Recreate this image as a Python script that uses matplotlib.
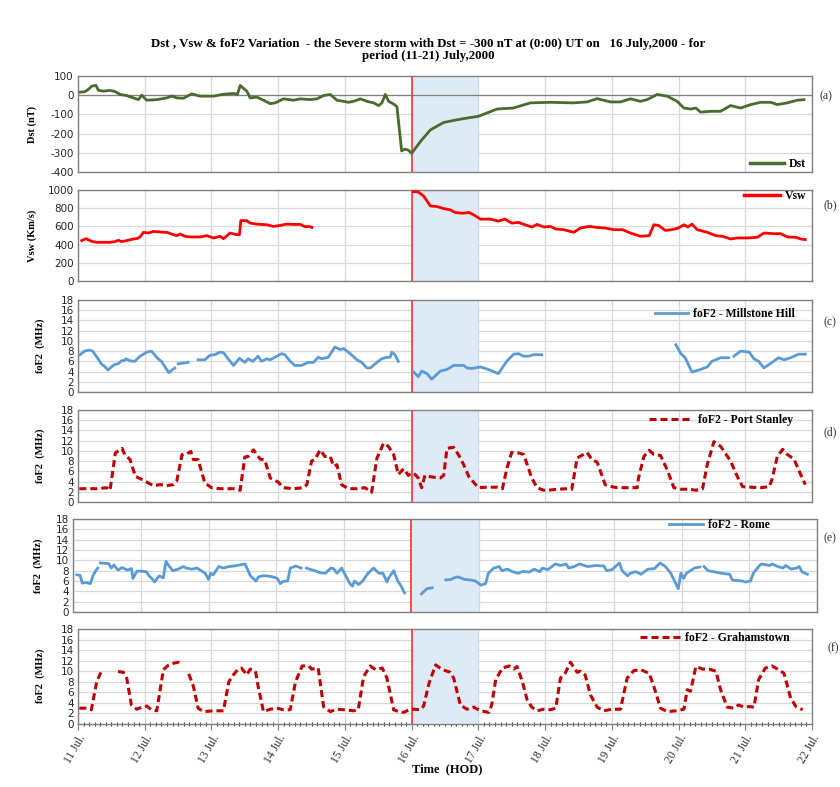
import numpy as np
import matplotlib
matplotlib.use('Agg')
import matplotlib.pyplot as plt
from matplotlib.lines import Line2D
from matplotlib.ticker import MultipleLocator

plt.rcParams['axes.unicode_minus'] = False
nan = np.nan

# ---------------- data (time in days from 11 July 00:00 UT) ----------------
dst_t = [0.03, 0.1, 0.155, 0.205, 0.27, 0.305, 0.38, 0.48, 0.555, 0.63, 0.73, 0.83, 0.905, 0.955,
         1.03, 1.18, 1.33, 1.405, 1.48, 1.58, 1.705, 1.83, 2.03, 2.18, 2.33, 2.39, 2.43, 2.53, 2.58,
         2.68, 2.78, 2.88, 2.955, 3.08, 3.23, 3.33, 3.48, 3.58, 3.68, 3.78, 3.88, 3.98, 4.055, 4.13,
         4.23, 4.33, 4.43, 4.505, 4.555, 4.605, 4.655, 4.73, 4.78, 4.85, 4.9, 4.95, 5.0,
         5.13, 5.28, 5.48, 5.68, 5.83, 6.0, 6.28, 6.52, 6.78, 7.08, 7.42, 7.63, 7.78, 7.98, 8.13,
         8.28, 8.43, 8.53, 8.68, 8.83, 8.98, 9.08, 9.18, 9.26, 9.33, 9.48, 9.63, 9.78, 9.93, 10.08,
         10.23, 10.38, 10.48, 10.63, 10.78, 10.88]
dst_v = [16, 18, 30, 47, 51, 26, 21, 25, 19, 4, -2, -14, -23, 0,
         -26, -23, -14, -4, -14, -16, 7, -5, -5, 5, 9, 5, 51, 21, -14,
         -10, -26, -44, -40, -19, -26, -19, -23, -19, -2, 4, -26, -32, -37, -32,
         -19, -32, -40, -54, -40, 4, -32, -46, -60, -290, -281, -286, -303,
         -242, -181, -142, -128, -119, -110, -72, -67, -40, -37, -40, -35, -18, -35, -35,
         -19, -32, -23, 4, -5, -32, -67, -72, -67, -88, -84, -84, -54, -67, -49,
         -37, -37, -49, -40, -26, -23]

vsw_t = [0.055, 0.12, 0.205, 0.28, 0.48, 0.555, 0.605, 0.655, 0.73, 0.83, 0.88, 0.93, 0.98, 1.055,
         1.13, 1.23, 1.33, 1.43, 1.48, 1.53, 1.605, 1.68, 1.83, 1.93, 2.03, 2.13, 2.18, 2.28, 2.38,
         2.42, 2.44, 2.53, 2.58, 2.68, 2.83, 2.93, 3.03, 3.13, 3.23, 3.33, 3.405, 3.455, 3.505,
         4.9,
         5.03, 5.1, 5.18, 5.28, 5.38, 5.48, 5.58, 5.65, 5.76, 5.86, 5.93, 6.03, 6.18, 6.3, 6.4, 6.5,
         6.6, 6.7, 6.8, 6.88, 6.98, 7.08, 7.16, 7.28, 7.43, 7.53, 7.66, 7.78, 7.9, 8.03, 8.16, 8.28,
         8.43, 8.56, 8.63, 8.7, 8.8, 8.9, 9.0, 9.08, 9.14, 9.2, 9.28, 9.43, 9.56, 9.66, 9.78, 9.88,
         10.03, 10.18, 10.28, 10.43, 10.53, 10.63, 10.76, 10.83, 10.9]
vsw_v = [444, 465, 436, 425, 425, 433, 447, 433, 444, 462, 465, 484, 535, 527,
         545, 538, 535, 509, 498, 516, 491, 484, 484, 498, 473, 491, 465, 527, 509,
         509, 665, 662, 636, 625, 618, 600, 611, 625, 622, 622, 596, 600, 589,
         nan,
         982, 978, 934, 825, 818, 796, 782, 753, 745, 753, 727, 680, 680, 658, 680, 636,
         644, 618, 593, 622, 593, 600, 571, 564, 535, 582, 600, 589, 582, 564, 564, 527,
         491, 498, 618, 611, 556, 564, 582, 618, 593, 625, 564, 535, 498, 491, 462, 473,
         473, 480, 527, 520, 520, 484, 480, 462, 455]

mh_t = [0.03, 0.1, 0.17, 0.22, 0.3, 0.35, 0.4, 0.45, 0.5, 0.55, 0.6, 0.65, 0.7, 0.72, 0.78, 0.85,
        0.93, 1.03, 1.1, 1.2, 1.25, 1.36, 1.45, 1.47, 1.5, 1.55, 1.65, 1.7, 1.8, 1.9, 1.98, 2.05,
        2.13, 2.18, 2.25, 2.33, 2.42, 2.5, 2.55, 2.62, 2.7, 2.75, 2.83, 2.88, 2.98, 3.05, 3.1, 3.18,
        3.25, 3.35, 3.45, 3.53, 3.6, 3.65, 3.75, 3.85, 3.93, 3.98, 4.08, 4.18, 4.25, 4.33, 4.38,
        4.48, 4.55, 4.63, 4.68, 4.7, 4.75, 4.8, 4.9,
        5.03, 5.1, 5.15, 5.23, 5.3, 5.43, 5.53, 5.63, 5.78, 5.83, 5.9, 6.03, 6.15, 6.3, 6.43, 6.53,
        6.6, 6.68, 6.75, 6.83, 6.95, 7.5,
        8.96, 9.03, 9.1, 9.2, 9.33, 9.43, 9.5, 9.63, 9.75, 9.79, 9.83, 9.93, 10.06, 10.13, 10.2,
        10.28, 10.38, 10.5, 10.58, 10.68, 10.8, 10.9]
mh_v = [7.3, 8.0, 8.2, 8.0, 6.5, 5.5, 5.0, 4.3, 4.9, 5.4, 5.5, 6.1, 6.2, 6.5, 6.1, 6.0,
        7.0, 7.8, 8.0, 6.5, 6.0, 3.8, 4.7, nan, 5.5, 5.6, 5.8, nan, 6.3, 6.3, 7.2, 7.3,
        7.8, 7.7, 6.5, 5.2, 6.6, 5.8, 6.5, 6.0, 7.0, 6.0, 6.5, 6.3, 7.0, 7.5, 7.3, 6.0,
        5.2, 5.2, 5.8, 5.8, 6.8, 6.5, 6.8, 8.8, 8.3, 8.5, 7.5, 6.3, 5.8, 4.7, 4.7,
        5.8, 6.5, 6.8, 6.8, 7.8, 7.3, 6.0, nan,
        3.9, 3.0, 4.1, 3.6, 2.5, 4.1, 4.4, 5.2, 5.2, 4.7, 4.6, 4.9, 4.4, 3.6, 6.1, 7.4,
        7.5, 7.0, 7.0, 7.3, 7.3, nan,
        9.25, 7.6, 6.7, 3.9, 4.4, 4.9, 6.0, 6.7, 6.7, nan, 7.0, 8.0, 7.8, 6.5, 6.0,
        4.7, 5.6, 6.7, 6.3, 6.7, 7.4, 7.4]

ps_t = [0.02, 0.28, 0.43, 0.48, 0.56, 0.66, 0.7, 0.78, 0.86, 0.93, 1.03, 1.13, 1.23, 1.33, 1.43,
        1.48, 1.56, 1.63, 1.69, 1.73, 1.8, 1.9, 2.0, 2.13, 2.33, 2.43, 2.5, 2.55, 2.63, 2.73, 2.8,
        2.88, 3.0, 3.08, 3.23, 3.38, 3.43, 3.5, 3.55, 3.63, 3.7, 3.78, 3.83, 3.88, 3.95, 4.05, 4.18,
        4.3, 4.4, 4.48, 4.58, 4.65, 4.73, 4.8, 4.88, 4.95, 5.0, 5.05, 5.1, 5.15, 5.2, 5.3, 5.43,
        5.48, 5.53, 5.63, 5.7, 5.78, 5.86, 5.96, 6.0, 6.13, 6.28, 6.36, 6.43, 6.5, 6.6, 6.68, 6.8,
        6.88, 6.98, 7.05, 7.18, 7.33, 7.4, 7.48, 7.63, 7.7, 7.78, 7.83, 7.9, 7.96, 8.08, 8.28, 8.38,
        8.4, 8.48, 8.56, 8.63, 8.73, 8.83, 8.93, 9.03, 9.16, 9.26, 9.36, 9.43, 9.53, 9.63, 9.78,
        9.88, 9.96, 10.08, 10.23, 10.36, 10.4, 10.48, 10.56, 10.63, 10.73, 10.83, 10.9]
ps_v = [2.6, 2.6, 2.8, 2.3, 9.6, 10.5, 9.3, 8.3, 5.0, 4.6, 3.9, 3.2, 3.4, 3.2, 3.4,
        4.1, 9.3, 9.4, 9.9, 8.3, 8.3, 3.75, 2.8, 2.6, 2.6, 2.3, 8.8, 8.9, 10.2, 8.4, 8.2,
        4.7, 3.9, 2.8, 2.6, 2.8, 3.4, 8.0, 8.3, 10.2, 8.9, 8.9, 7.0, 7.3, 3.4, 2.6, 2.6,
        2.8, 1.9, 8.6, 11.5, 10.9, 9.3, 5.4, 6.5, 5.2, 5.7, 5.4, 4.7, 2.8, 5.2, 4.9, 4.7,
        5.2, 10.5, 10.7, 9.3, 7.3, 4.9, 3.4, 2.8, 2.9, 2.9, 2.6, 6.7, 9.7, 9.6, 9.3, 4.7,
        2.8, 2.3, 2.3, 2.5, 2.6, 2.5, 8.6, 9.7, 8.3, 7.8, 6.0, 3.4, 3.1, 2.8, 2.8, 2.8,
        4.7, 8.9, 10.1, 9.3, 9.1, 6.3, 2.8, 2.5, 2.5, 2.3, 2.6, 7.3, 11.8, 10.9, 8.0,
        5.0, 3.0, 2.9, 2.8, 3.0, 4.4, 8.9, 10.3, 9.3, 8.4, 5.4, 3.4]

rome_t = [0.05, 0.1, 0.13, 0.19, 0.25, 0.29, 0.33, 0.36, 0.38, 0.4, 0.48, 0.52, 0.56, 0.6, 0.66,
          0.72, 0.8, 0.86, 0.88, 0.94, 1.0, 1.08, 1.12, 1.16, 1.2, 1.24, 1.27, 1.33, 1.37, 1.41,
          1.47, 1.55, 1.63, 1.67, 1.75, 1.83, 1.95, 2.0, 2.03, 2.07, 2.11, 2.15, 2.22, 2.3, 2.38,
          2.46, 2.54, 2.62, 2.7, 2.74, 2.79, 2.86, 2.95, 3.02, 3.06, 3.1, 3.17, 3.21, 3.29, 3.37,
          3.41, 3.45, 3.49, 3.57, 3.65, 3.73, 3.81, 3.85, 3.9, 3.97, 4.03, 4.09, 4.13, 4.16, 4.22,
          4.28, 4.36, 4.44, 4.48, 4.52, 4.58, 4.64, 4.66, 4.74, 4.8, 4.85, 4.9, 5.0,
          5.15, 5.23, 5.31, 5.4,
          5.51, 5.59, 5.63, 5.69, 5.75, 5.79, 5.87, 5.95, 6.03, 6.1, 6.14, 6.22, 6.3, 6.34, 6.42,
          6.5, 6.58, 6.66, 6.74, 6.82, 6.9, 6.94, 7.02, 7.13, 7.21, 7.29, 7.33, 7.41, 7.49, 7.61,
          7.73, 7.85, 7.89, 7.97, 8.08, 8.12, 8.2, 8.24, 8.32, 8.4, 8.5, 8.6, 8.68, 8.76, 8.84,
          8.95, 8.99, 9.03, 9.07, 9.19, 9.27, 9.3, 9.33, 9.39, 9.47, 9.59, 9.71, 9.75, 9.9, 9.94,
          10.02, 10.06, 10.14, 10.18, 10.3, 10.34, 10.42, 10.5, 10.54, 10.62, 10.7, 10.74, 10.78,
          10.86]
rome_v = [7.2, 7.1, 5.6, 5.7, 5.5, 7.0, 8.0, 8.5, nan, 9.5, 9.4, 9.4, 8.5, 9.1, 8.1,
          8.6, 8.1, 8.4, 6.5, 7.9, 7.9, 7.8, 7.0, 6.5, 5.8, 6.5, 7.0, 6.6, 9.8, 9.0,
          8.0, 8.3, 8.8, 8.5, 8.3, 8.5, 7.5, 6.3, 7.5, 7.2, 8.0, 8.8, 8.5, 8.8, 8.9,
          9.1, 9.3, 7.0, 6.0, 6.8, 7.0, 7.0, 6.8, 6.5, 5.5, 5.9, 6.0, 8.5, 8.9, 8.5,
          nan, 8.5, 8.3, 8.0, 7.6, 7.5, 8.5, 8.4, 7.5, 8.5, 7.0, 5.5, 5.0, 6.0, 5.3,
          6.0, 7.5, 8.5, 8.0, 7.5, 7.5, 5.8, 6.5, 8.0, 6.0, 5.0, 3.7, nan,
          3.5, 4.5, 4.7, nan,
          6.2, 6.3, 6.6, 6.8, 6.5, 6.3, 6.2, 6.0, 5.2, 5.5, 7.5, 8.5, 8.8, 8.0, 8.3,
          7.8, 7.5, 7.9, 7.7, 8.3, 7.8, 8.5, 8.2, 9.3, 9.0, 9.3, 8.5, 8.8, 9.3, 8.8,
          9.0, 8.9, 8.0, 8.2, 9.5, 8.0, 7.0, 7.5, 7.8, 7.3, 8.3, 8.4, 9.5, 8.8, 7.5,
          4.5, 7.5, 6.5, 7.5, 8.5, 8.7, nan, 8.8, 8.0, 7.8, 7.5, 7.3, 6.2, 6.0, 5.8,
          6.0, 7.5, 8.8, 9.3, 9.0, 9.3, 8.8, 8.5, 9.0, 8.3, 8.5, 8.8, 7.8,
          7.3]

gr_t = [0.02, 0.13, 0.2, 0.28, 0.36, 0.48, 0.6, 0.68, 0.73, 0.8, 0.88, 0.98, 1.03, 1.1, 1.18,
        1.28, 1.36, 1.43, 1.5, 1.53, 1.6, 1.66, 1.73, 1.8, 1.88, 2.03, 2.18, 2.26, 2.33, 2.4, 2.45,
        2.53, 2.58, 2.66, 2.7, 2.78, 2.88, 2.98, 3.08, 3.18, 3.26, 3.36, 3.46, 3.5, 3.6, 3.68,
        3.78, 3.88, 3.98, 4.13, 4.2, 4.28, 4.38, 4.46, 4.56, 4.63, 4.73, 4.8, 4.88, 4.98, 5.03,
        5.13, 5.18, 5.26, 5.36, 5.46, 5.58, 5.63, 5.73, 5.83, 5.93, 6.03, 6.16, 6.2, 6.26, 6.36,
        6.46, 6.53, 6.58, 6.66, 6.73, 6.8, 6.88, 6.98, 7.08, 7.16, 7.23, 7.3, 7.38, 7.48, 7.53,
        7.6, 7.68, 7.78, 7.88, 8.0, 8.13, 8.23, 8.33, 8.43, 8.56, 8.63, 8.73, 8.83, 8.96, 9.08,
        9.13, 9.18, 9.26, 9.36, 9.46, 9.56, 9.63, 9.73, 9.83, 9.9, 9.98, 10.06, 10.13, 10.2, 10.3,
        10.4, 10.5, 10.58, 10.68, 10.76, 10.86]
gr_v = [3.0, 3.0, 2.7, 8.0, 10.3, nan, 9.95, 9.8, 8.7, 3.6, 2.8, 3.3, 3.4, 2.7, 2.5,
        10.3, 11.2, 11.5, 11.7, 11.2, nan, 9.5, 7.1, 3.0, 2.35, 2.5, 2.5, 8.0, 9.3, 10.4, 10.6,
        9.3, 10.4, 10.0, 7.1, 2.35, 2.8, 3.0, 2.7, 2.7, 8.0, 11.0, 11.0, 10.4, 10.6, 3.3,
        2.35, 2.8, 2.7, 2.5, 2.7, 9.0, 11.0, 10.3, 10.6, 8.7, 2.7, 2.35, 2.2, 2.8, 2.8,
        2.7, 3.4, 7.7, 11.2, 10.3, 9.8, 8.7, 3.6, 2.8, 3.2, 2.5, 2.2, 3.6, 8.4, 10.6,
        11.0, 10.4, 10.9, 8.0, 4.6, 3.2, 2.5, 2.8, 2.7, 3.0, 8.7, 9.6, 11.7, 9.8, 10.0,
        9.3, 5.5, 3.2, 2.5, 2.8, 2.8, 8.7, 10.1, 10.3, 9.6, 7.1, 3.0, 2.35, 2.5, 2.8,
        6.5, 6.2, 10.9, 10.4, 10.4, 10.0, 6.5, 3.2, 3.0, 3.6, 3.2, 3.3, 3.2, 8.4, 10.6,
        11.0, 10.3, 9.6, 4.9, 3.3, 2.7]

day_labels = ['11 Jul.', '12 Jul.', '13 Jul.', '14 Jul.', '15 Jul.', '16 Jul.',
              '17 Jul.', '18 Jul.', '19 Jul.', '20 Jul.', '21 Jul.', '22 Jul.']
title = ("Dst , Vsw & foF2 Variation  - the Severe storm with Dst = -300 nT at (0:00) UT on   "
         "16 July,2000 - for\nperiod (11-21) July,2000")

# ---------------- figure ----------------
W, H = 840, 787
fig = plt.figure(figsize=(W / 100, H / 100), dpi=100)
SERIF = 'Liberation Serif'
DASH = (2.3, 1.3)


def box(l, t, r, b):
    return [l / W, 1 - b / H, (r - l) / W, (b - t) / H]


def style(ax, ylim, yticks, shade=True):
    ax.set_xlim(0, 11)
    ax.set_ylim(*ylim)
    ax.set_yticks(yticks)
    ax.set_xticks(range(12))
    ax.grid(True, color='#d9d9d9', lw=0.9)
    ax.set_axisbelow(True)
    ax.tick_params(axis='x', length=0, labelbottom=False)
    ax.tick_params(axis='y', length=0, labelsize=7.5, pad=3, labelcolor='#262626')
    for s in ax.spines.values():
        s.set_color('#808080')
        s.set_linewidth(1.0)
    if shade:
        ax.axvspan(5, 6, color='#deebf7', zorder=0.6, lw=0)
        ax.axvline(6, color='#c9d9ea', lw=0.8, zorder=0.7)
    ax.axvline(5, color='#ff3030', lw=1.2, zorder=3)


def legend(ax, handle, label, right_px, cy_px, hl):
    ax.legend([handle], [label], loc='center right',
              bbox_to_anchor=(right_px / W, 1 - cy_px / H), bbox_transform=fig.transFigure,
              frameon=False, borderaxespad=0, borderpad=0, handlelength=hl, handletextpad=0.4,
              prop={'family': SERIF, 'weight': 'bold', 'size': 8.5})


def ylab(text, x_px, y_px):
    fig.text(x_px / W, 1 - y_px / H, text, rotation=90, ha='center', va='center',
             family=SERIF, weight='bold', fontsize=7.5)


def plab(text, x_px, y_px):
    fig.text(x_px / W, 1 - y_px / H, text, ha='left', va='center', family=SERIF,
             fontsize=8.5, color='#333333')


fig.text(428 / W, 1 - 50 / H, title, ha='center', va='center', family=SERIF,
         weight='bold', fontsize=9.3, linespacing=1.1)

# (a) Dst
axa = fig.add_axes(box(78, 76, 812, 172))
style(axa, (-400, 100), range(-400, 101, 100))
axa.axhline(0, color='#808080', lw=0.9, zorder=1)
axa.plot(dst_t, dst_v, color='#4a6b2e', lw=2.0, zorder=4)
legend(axa, Line2D([], [], color='#4a6b2e', lw=2.5), 'Dst', 806, 164, 2.9)
ylab('Dst (nT)', 32, 124)
plab('(a)', 820, 96)

# (b) Vsw
axb = fig.add_axes(box(78, 190, 812, 281))
style(axb, (0, 1000), range(0, 1001, 200))
axb.plot(vsw_t, vsw_v, color='#ff0000', lw=2.0, zorder=4)
legend(axb, Line2D([], [], color='#ff0000', lw=2.5), 'Vsw', 806, 196, 3.0)
ylab('Vsw (Km/s)', 32, 236)
plab('(b)', 823, 205)

BLUE = '#5b9bd5'
DRED = '#c00000'
f_ticks = range(0, 19, 2)

# (c) Millstone Hill
axc = fig.add_axes(box(78, 300, 812, 392))
style(axc, (0, 18), f_ticks)
axc.plot(mh_t, mh_v, color=BLUE, lw=2.0, zorder=4)
legend(axc, Line2D([], [], color=BLUE, lw=2.0), 'foF2 - Millstone Hill', 795, 314, 2.8)
ylab('foF2  (MHz)', 40, 346)
plab('(c)', 823, 322)

# (d) Port Stanley
axd = fig.add_axes(box(78, 410, 812, 502))
style(axd, (0, 18), f_ticks)
axd.plot(ps_t, ps_v, color=DRED, lw=2.2, dashes=DASH, zorder=4)
legend(axd, Line2D([], [], color=DRED, lw=2.2, dashes=DASH), 'foF2 - Port Stanley',
       793, 420, 3.7)
ylab('foF2  (MHz)', 40, 456)
plab('(d)', 823, 432)

# (e) Rome
axe = fig.add_axes(box(73.4, 519, 816.8, 612))
style(axe, (0, 18), f_ticks)
axe.plot(rome_t, rome_v, color=BLUE, lw=2.0, zorder=4)
legend(axe, Line2D([], [], color=BLUE, lw=2.0), 'foF2 - Rome', 770, 525, 2.9)
ylab('foF2  (MHz)', 38, 566)
plab('(e)', 823, 538)

# (f) Grahamstown
axf = fig.add_axes(box(78, 629, 812, 724))
style(axf, (0, 18), f_ticks)
axf.plot(gr_t, gr_v, color=DRED, lw=2.2, dashes=DASH, zorder=4)
legend(axf, Line2D([], [], color=DRED, lw=2.2, dashes=DASH), 'foF2 - Grahamstown',
       790, 638, 3.4)
ylab('foF2  (MHz)', 40, 676)
plab('(f)', 828, 648)
axf.tick_params(axis='x', length=4, color='#808080', labelbottom=True, pad=2)
axf.xaxis.set_minor_locator(MultipleLocator(1 / 12))
axf.tick_params(axis='x', which='minor', length=3, direction='inout', color='#404040', width=0.8)
axf.set_xticklabels(day_labels, rotation=60, ha='right', va='top', rotation_mode='anchor',
                    family=SERIF, fontsize=8.5, color='#333333')
fig.text(447 / W, 1 - 769 / H, 'Time  (HOD)', ha='center', va='center', family=SERIF,
         weight='bold', fontsize=9)

fig.savefig('out.png', dpi=100)
